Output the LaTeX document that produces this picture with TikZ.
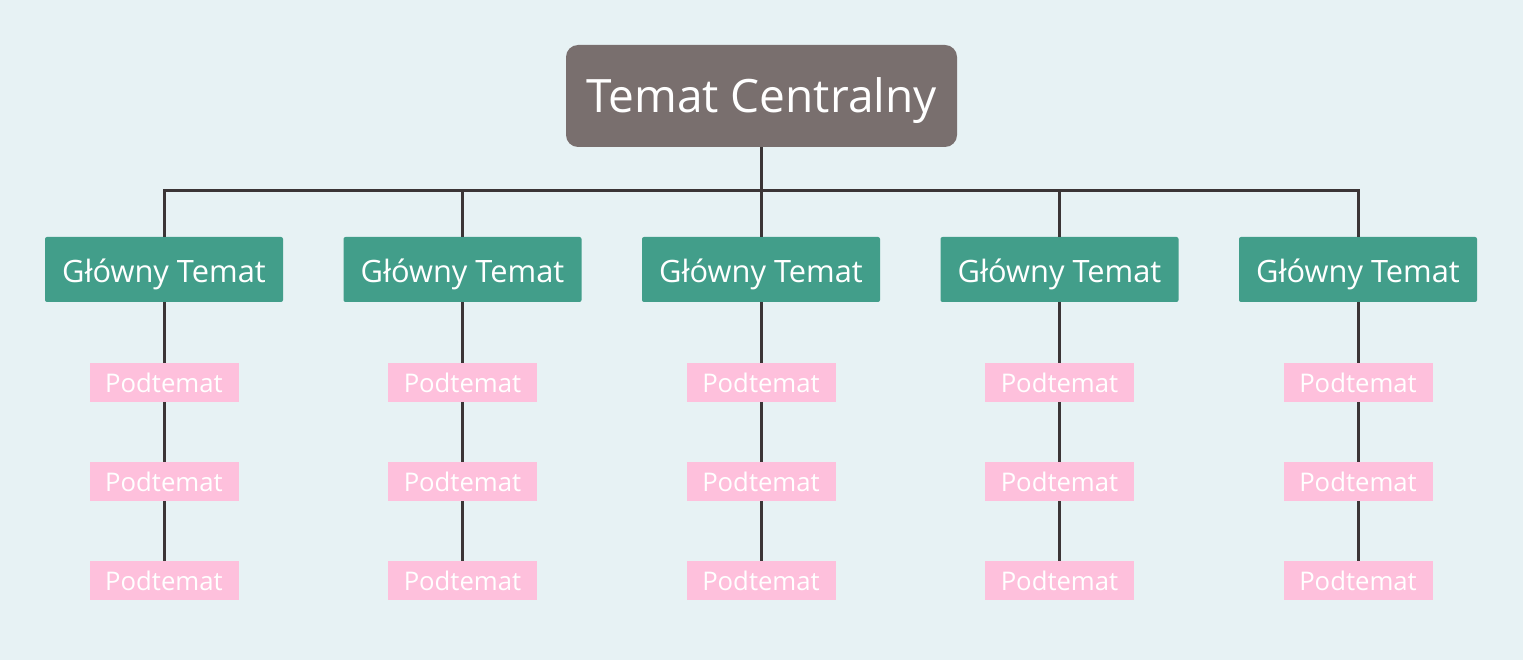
\documentclass[tikz,border=0pt]{standalone}
\usepackage{fontspec}
\setmainfont{Open Sans}
\definecolor{bgcol}{HTML}{E7F2F4}
\definecolor{centcol}{HTML}{796F6E}
\definecolor{maincol}{HTML}{429E8A}
\definecolor{subcol}{HTML}{FEC0DC}
\definecolor{linkcol}{HTML}{3B3536}
\tikzset{
  central/.style={fill=centcol,rounded corners=12pt,minimum width=391pt,minimum height=102pt,inner sep=0pt,text=white,text height=34pt,text depth=0pt,font=\fontsize{46}{55}\selectfont},
  mainbox/.style={fill=maincol,rounded corners=2pt,minimum width=238pt,minimum height=65pt,inner sep=0pt,text=white,text height=26pt,text depth=0pt,font=\fontsize{30.8}{37}\selectfont},
  subbox/.style={fill=subcol,minimum width=149pt,minimum height=39pt,inner sep=0pt,text=white,text height=20.5pt,text depth=0pt,font=\fontsize{25.7}{31}\selectfont},
  link/.style={draw=linkcol,line width=3pt}
}
\begin{document}
\begin{tikzpicture}[x=1pt,y=-1pt]
\fill[bgcol] (0,0) rectangle (1523,660);
\node[central] (c) at (761.5,96) {Temat Centralny};
\coordinate (bus) at (761.5,191);
% main topics and their subtopics
\foreach \i/\x in {1/164,2/462.5,3/761,4/1059.5,5/1358} {
  \node[mainbox] (m\i) at (\x,269.5) {Główny Temat};
  \foreach \j/\y in {1/382.5,2/481.5,3/580.5}
    \node[subbox] (s\i\j) at (\x,\y) {Podtemat};
}
\draw[link] (c.south) -- (bus);
\draw[link] (m1.north) |- (bus) -| (m5.north);
\foreach \i in {2,3,4}
  \draw[link] (m\i.north) -- (m\i.north |- bus);
\foreach \i in {1,...,5} {
  \draw[link] (m\i.south) -- (s\i1.north);
  \draw[link] (s\i1.south) -- (s\i2.north);
  \draw[link] (s\i2.south) -- (s\i3.north);
}
\end{tikzpicture}
\end{document}
